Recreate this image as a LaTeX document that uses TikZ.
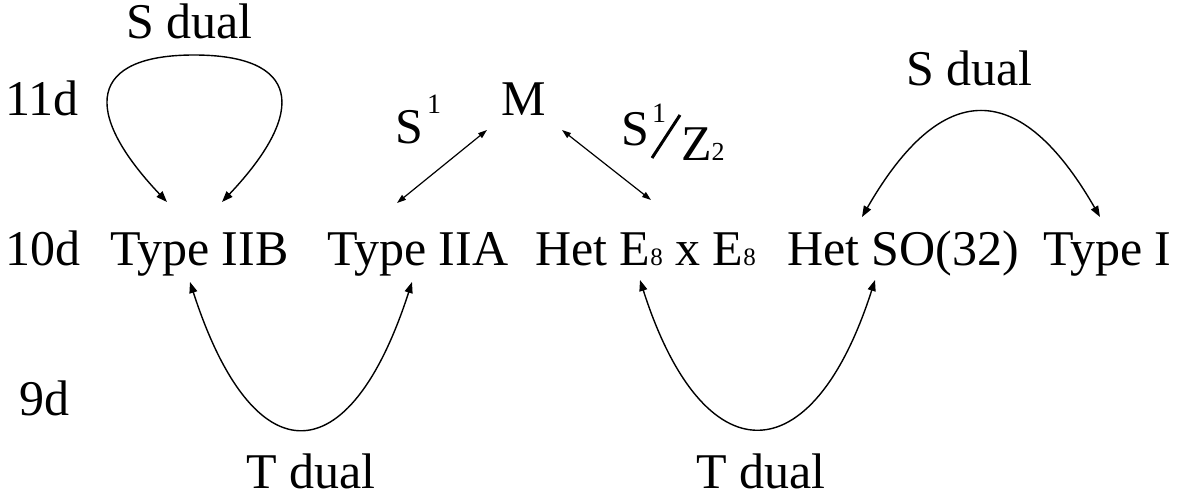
\documentclass[tikz,border=0pt]{standalone}
\usepackage{fontspec}
\setmainfont{Liberation Serif}
\usetikzlibrary{arrows.meta,calc}

\newcommand{\smalldigit}[1]{{\fontsize{25}{25}\selectfont #1}}

\begin{document}
\begin{tikzpicture}[x=1pt,y=-1pt,
    every node/.style={inner sep=0pt,anchor=base west,font=\fontsize{50}{60}\selectfont},
    dual/.style={{Triangle[length=11pt,width=8pt]}-{Triangle[length=11pt,width=8pt]},line width=1.4pt},
    reduce/.style={{Triangle[length=9pt,width=6pt]}-{Triangle[length=9pt,width=6pt]},line width=1.2pt}]

    \useasboundingbox (0,0) rectangle (1191,498);

    % dimensions
    \node (d11) at (5,115) {11d};
    \node (d10) at (5,265) {10d};
    \node (d9) at (19,415) {9d};

    % theories in 10d and M theory
    \node (IIB) at (110,265) {Type IIB};
    \node (IIA) at (327,265) {Type IIA};
    \node (E8) at (535,265) {Het E\smalldigit{8} x E\smalldigit{8}};
    \node (SO) at (787,265) {Het SO(32)};
    \node (I) at (1043,265) {Type I};
    \node (M) at (501,115) {M};

    % compactifications
    \node (S1) at (395,143) {S\hspace{4pt}\raisebox{30pt}{\fontsize{28}{28}\selectfont 1}};
    \node (S1Z2) at (621,160) {\raisebox{15pt}{S}\hspace{3pt}\raisebox{38pt}{\fontsize{28}{28}\selectfont 1}\hspace{15pt}Z{\fontsize{26}{26}\selectfont 2}};
    \draw[line width=3pt] ($(S1Z2.base west)+(31,-2)$) -- ($(S1Z2.base west)+(59,-45)$);

    % dualities
    \node (sdualL) at (126,38) {S dual};
    \node (sdualR) at (906,85) {S dual};
    \node (tdualL) at (246,488) {T dual};
    \node (tdualR) at (696,488) {T dual};

    \coordinate (iibL) at ($(IIB.base west)+(57,-63)$);
    \coordinate (iibR) at ($(IIB.base west)+(112,-63)$);
    \draw[dual] (iibL) .. controls (80,110) and (90,55) .. (194,55)
                       .. controls (299,55) and (309,110) .. (iibR);

    \draw[reduce] ($(IIA.base west)+(70,-62)$) -- ($(M.base west)+(-14,15)$);
    \draw[reduce] ($(M.base west)+(61,15)$) -- ($(E8.base west)+(116,-65)$);

    \draw[dual] ($(SO.base west)+(75,-48)$) .. controls (942,78) and (1020,78) .. ($(I.base west)+(57,-48)$);
    \draw[dual] ($(IIB.base west)+(80,17)$) .. controls (253,477) and (349,477) .. ($(IIA.base west)+(85,17)$);
    \draw[dual] ($(E8.base west)+(105,15)$) .. controls (703,477) and (812,477) .. ($(SO.base west)+(88,15)$);
\end{tikzpicture}
\end{document}
